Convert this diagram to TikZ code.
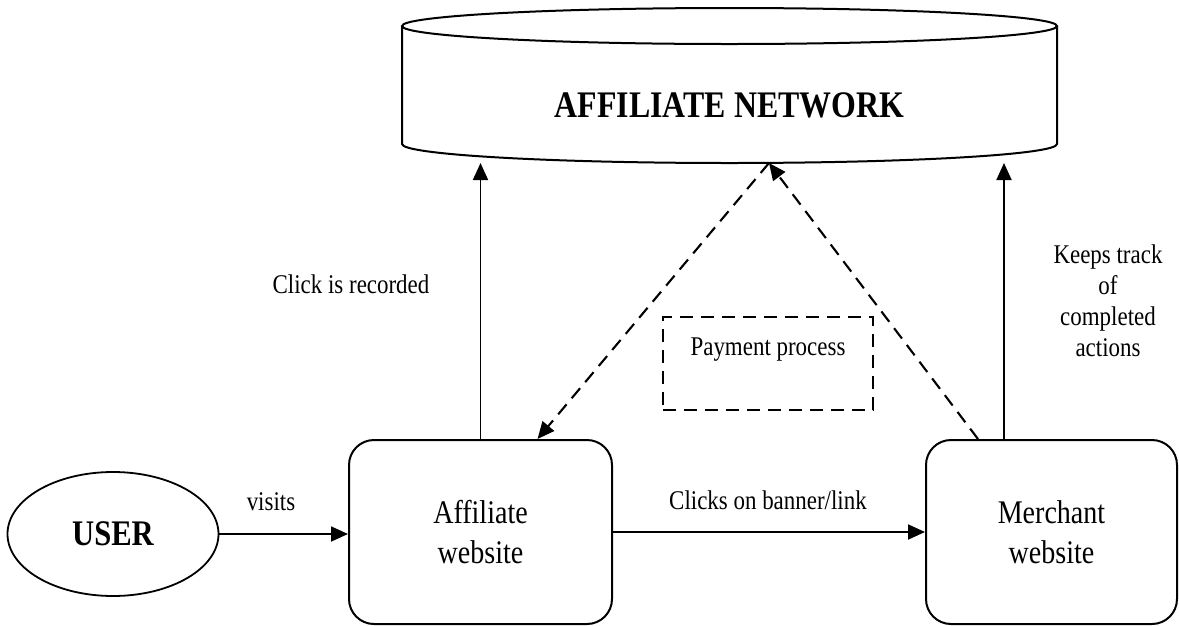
\documentclass[tikz,border=0pt]{standalone}
\usepackage{fontspec}
\setmainfont{Liberation Serif}[FakeStretch=0.85]
\usetikzlibrary{arrows.meta,shapes.geometric}
\begin{document}
\begin{tikzpicture}[x=1pt,y=-1pt,
  tipA/.style={-{Triangle[length=17pt,width=15pt]}},
  solidarr/.style={line width=1.8pt, tipA},
  dasharr/.style={line width=2.1pt, dash pattern=on 13pt off 8pt, tipA},
  rbox/.style={draw, line width=2pt, rounded corners=25pt, align=center,
    font=\fontsize{33}{40}\selectfont, inner sep=0pt},
  lbl/.style={font=\fontsize{27}{31}\selectfont, align=center, inner sep=0pt},
  shapeline/.style={line width=2pt}]
\clip (0,0) rectangle (1179,625);
\fill[white] (0,0) rectangle (1179,625);

% cylinder (affiliate network)
\draw[shapeline] (402,26) -- (402,144)
  .. controls (402,154.5) and (548.6,163) .. (729.5,163)
  .. controls (910.4,163) and (1057,154.5) .. (1057,144) -- (1057,26);
\draw[shapeline] (729.5,26) ellipse [x radius=327.5, y radius=18];
\node[font=\bfseries\fontsize{37.5}{40}\selectfont] (net) at (729.5,105) {AFFILIATE NETWORK};
\coordinate (netL) at (480.5,163);
\coordinate (netR) at (1004,163);
\coordinate (apex) at (769,163);

% nodes
\node[draw, ellipse, line width=1.8pt, minimum width=211pt, minimum height=124pt,
  inner sep=0pt, font=\bfseries\fontsize{36}{40}\selectfont] (user) at (113,534) {USER};
\node[rbox, minimum width=263pt, minimum height=184pt] (aff) at (480.5,532) {Affiliate\\website};
\node[rbox, minimum width=251pt, minimum height=184pt] (merch) at (1051.5,532) {Merchant\\website};
\node[draw, line width=2pt, dash pattern=on 13pt off 8pt,
  minimum width=210pt, minimum height=93pt, inner sep=0pt] (pay) at (768,363.5) {};
\node[lbl] (paytext) at (768,350) {Payment process};

% connectors
\draw[solidarr] (user.east) -- (user.east -| aff.west);
\draw[solidarr] (aff.east) -- (merch.west);
\draw[solidarr] (aff.north) -- (netL);
\draw[solidarr] (netR |- merch.north) -- (netR);
\draw[dasharr] (apex) -- ([xshift=57pt]aff.north);
\draw[dasharr] ([xshift=-73.5pt]merch.north) -- (apex);

% labels
\node[lbl] (lvisits) at (271,502) {visits};
\node[lbl] (lclicks) at (768,500) {Clicks on banner/link};
\node[lbl] (lrec) at (351,284) {Click is recorded};
\node[lbl] (ltrack) at (1108,301) {Keeps track\\of\\completed\\actions};
\end{tikzpicture}
\end{document}
